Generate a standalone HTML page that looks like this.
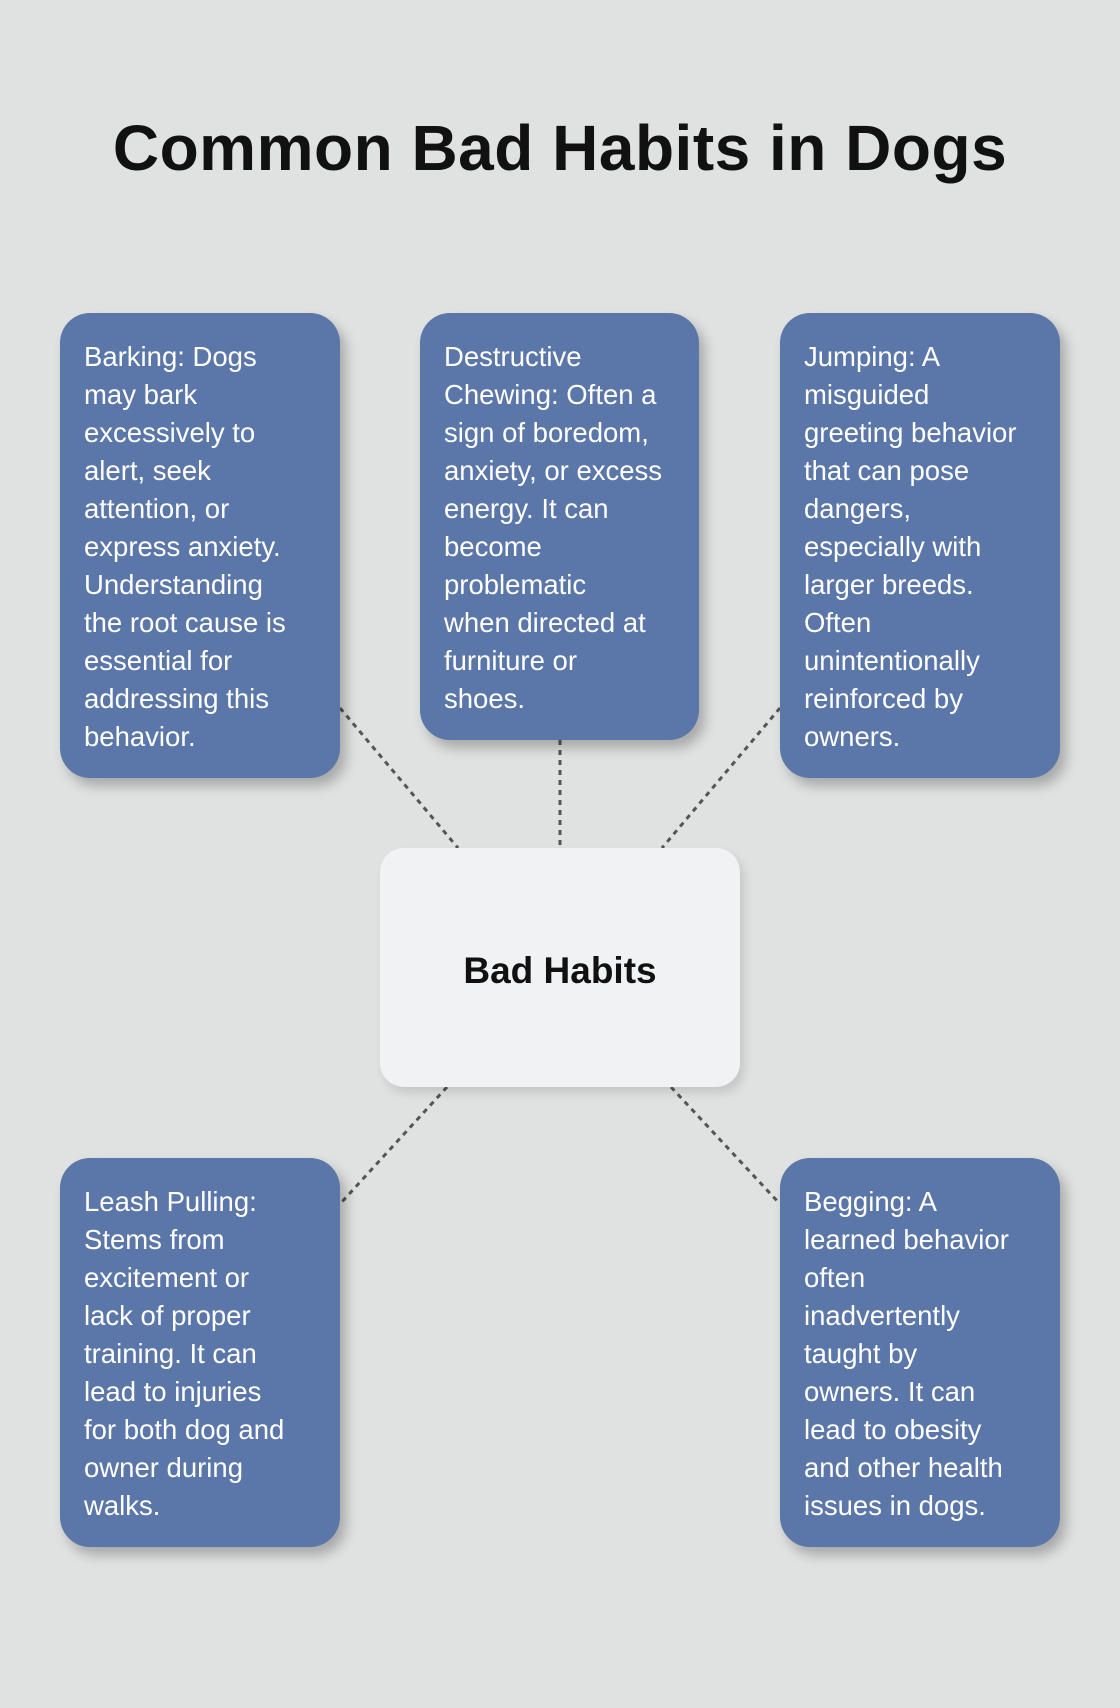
<!DOCTYPE html>
<html><head><meta charset="utf-8"><style>
html,body{margin:0;padding:0}
body{width:1120px;height:1708px;background:#dfe2e1;position:relative;overflow:hidden;font-family:"Liberation Sans",sans-serif}
h1{position:absolute;left:0;width:1120px;top:111px;margin:0;text-align:center;font-size:64px;font-weight:bold;color:#111;letter-spacing:0.5px}
.b{position:absolute;background:#5b76a8;border-radius:30px;box-shadow:6px 8px 12px rgba(0,0,0,0.25);color:#fff;font-size:27.5px;line-height:38px;padding:25px 0 0 24px;box-sizing:border-box;white-space:nowrap}
.c{position:absolute;left:380px;top:848px;width:360px;height:239px;background:#f0f2f3;border-radius:24px;box-shadow:4px 6px 10px rgba(0,0,0,0.12);display:flex;align-items:center;justify-content:center;font-size:37px;font-weight:bold;color:#111;padding-top:6px;box-sizing:border-box}
svg{position:absolute;left:0;top:0}
</style></head><body>
<h1>Common Bad Habits in Dogs</h1>
<svg width="1120" height="1708"><g stroke="#555" stroke-width="3" stroke-dasharray="5,5" fill="none">
<line x1="340" y1="708" x2="458" y2="848"/>
<line x1="560" y1="740" x2="560" y2="848"/>
<line x1="780" y1="708" x2="662" y2="848"/>
<line x1="447" y1="1087" x2="340" y2="1204"/>
<line x1="671" y1="1087" x2="780" y2="1204"/>
</g></svg>
<div class="b" style="left:60px;top:313px;width:280px;height:465px">Barking: Dogs<br>may bark<br>excessively to<br>alert, seek<br>attention, or<br>express anxiety.<br>Understanding<br>the root cause is<br>essential for<br>addressing this<br>behavior.</div>
<div class="b" style="left:420px;top:313px;width:279px;height:427px">Destructive<br>Chewing: Often a<br>sign of boredom,<br>anxiety, or excess<br>energy. It can<br>become<br>problematic<br>when directed at<br>furniture or<br>shoes.</div>
<div class="b" style="left:780px;top:313px;width:280px;height:465px">Jumping: A<br>misguided<br>greeting behavior<br>that can pose<br>dangers,<br>especially with<br>larger breeds.<br>Often<br>unintentionally<br>reinforced by<br>owners.</div>
<div class="c">Bad Habits</div>
<div class="b" style="left:60px;top:1158px;width:280px;height:389px">Leash Pulling:<br>Stems from<br>excitement or<br>lack of proper<br>training. It can<br>lead to injuries<br>for both dog and<br>owner during<br>walks.</div>
<div class="b" style="left:780px;top:1158px;width:280px;height:389px">Begging: A<br>learned behavior<br>often<br>inadvertently<br>taught by<br>owners. It can<br>lead to obesity<br>and other health<br>issues in dogs.</div>
</body></html>
